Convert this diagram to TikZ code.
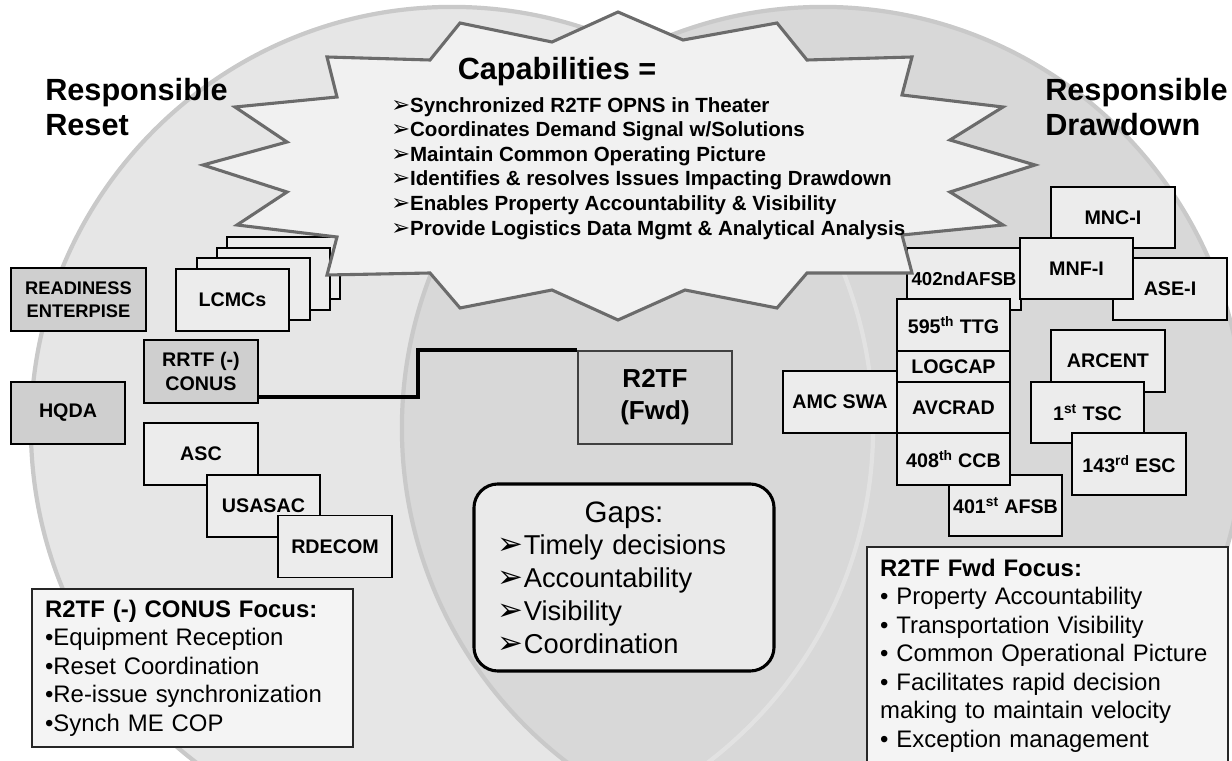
\documentclass[tikz,border=0pt]{standalone}
\usepackage{fontspec}
\setmainfont{Liberation Sans}
\newfontfamily\dejavu{DejaVu Sans}
\usetikzlibrary{positioning,calc}
\definecolor{leftfill}{HTML}{E6E6E6}
\definecolor{rightfill}{HTML}{D8D8D8}
\definecolor{ringgray}{HTML}{C9C9C9}
\definecolor{ringlight}{HTML}{E2E2E2}
\definecolor{boxfill}{HTML}{ECECEC}
\definecolor{hqfill}{HTML}{CFCFCF}
\definecolor{fwdfill}{HTML}{D3D3D3}
\definecolor{burstfill}{HTML}{F1F1F1}
\definecolor{burstline}{HTML}{6B6B6B}
\definecolor{gapfill}{HTML}{EAEAEA}
\definecolor{notefill}{HTML}{F4F4F4}
\newcommand{\capmark}{{\dejavu\fontsize{16}{16}\selectfont ➢}}
\newcommand{\gapmark}{{\dejavu\fontsize{22}{22}\selectfont ➢}}

\begin{document}
\begin{tikzpicture}[x=0.025cm,y=-0.025cm,
  unitbox/.style={draw=black,line width=1.3pt,fill=boxfill,minimum width=2.83cm,minimum height=1.55cm,inner sep=1pt,font=\fontsize{14}{17}\selectfont\bfseries,align=center},
  hqbox/.style={unitbox,fill=hqfill},
  ring/.style={draw=ringgray,line width=3pt},
  burst/.style={draw=burstline,fill=burstfill,line width=2.2pt,line join=miter},
  bigtitle/.style={inner sep=0,align=left,font=\fontsize{21.8}{24.9}\selectfont\bfseries},
  notebox/.style={draw=black!85,line width=1.3pt,fill=notefill,anchor=north west,align=left,inner xsep=0.33cm,font=\fontsize{17}{20.3}\selectfont},
  link/.style={line width=2.8pt}]
\useasboundingbox (0,0) rectangle (1232,761);
\clip (0,0) rectangle (1232,761);

\fill[leftfill] (452,428) circle [radius=10.525cm];
\draw[ring] (452,428) circle [radius=10.525cm];
\fill[rightfill] (823,428) circle [radius=10.525cm];
\draw[ring] (823,428) circle [radius=10.525cm];
\begin{scope}
\clip (823,428) circle [radius=10.45cm];
\draw[ring,draw=ringlight] (452,428) circle [radius=10.525cm];
\end{scope}

\node[hqbox,minimum width=3.375cm,minimum height=1.575cm,font=\fontsize{13}{16.4}\selectfont\bfseries] (ready) at (78.5,299.5) {READINESS\\ENTERPISE};
\node[unitbox] (lcmc4) at (283.5,268) {};
\node[unitbox] (lcmc3) at (273.5,279) {};
\node[unitbox] (lcmc2) at (253.5,289) {};
\node[unitbox] (lcmc) at (232.5,300) {LCMCs};
\node[hqbox,minimum height=1.575cm] (rrtf) at (201,371.5) {RRTF (-)\\CONUS};
\node[hqbox] (hqda) at (68,413) {HQDA};
\node[unitbox] (asc) at (201,454) {ASC};
\node[unitbox] (usasac) at (263.5,506) {USASAC};
\node[unitbox] (rdecom) at (335,546.5) {RDECOM};

\node[unitbox,minimum width=3.1cm,minimum height=1.525cm] (mnci) at (1113,217.5) {MNC-I};
\node[unitbox,minimum width=2.85cm] (asei) at (1170,289) {ASE-I};
\node[unitbox,minimum width=2.85cm,font=\fontsize{13.3}{16}\selectfont\bfseries] (afsb402) at (964,279) {402ndAFSB};
\node[unitbox,minimum height=1.525cm] (mnfi) at (1076.5,268.5) {MNF-I};
\node[unitbox,minimum width=2.85cm] (amcswa) at (840,402) {AMC SWA};
\node[unitbox,minimum height=1.525cm] (afsb401) at (1005.5,505.5) {401\textsuperscript{st} AFSB};
\node[unitbox,minimum height=1.3cm] (ttg) at (953.5,325) {595\textsuperscript{th} TTG};
\node[unitbox,minimum height=0.775cm] (logcap) at (953.5,366.5) {LOGCAP};
\node[unitbox,minimum height=1.275cm] (avcrad) at (953.5,407.5) {AVCRAD};
\node[unitbox,minimum height=1.3cm] (ccb) at (953.5,459) {408\textsuperscript{th} CCB};
\node[unitbox,minimum width=2.85cm] (arcent) at (1108,361) {ARCENT};
\node[unitbox,minimum height=1.525cm] (tsc) at (1087.5,412.5) {1\textsuperscript{st} TSC};
\node[unitbox,minimum width=2.85cm] (esc) at (1129,464) {143\textsuperscript{rd} ESC};

\draw[burst] (327,57) -- (430,60) -- (460,23) -- (552,42) -- (618,12) -- (683,40) -- (777,23) -- (807,60)
  -- (912,57) -- (902,95) -- (1003,107) -- (950,140) -- (1035,165) -- (950,192) -- (1003,225) -- (902,235)
  -- (912,273) -- (807,273) -- (777,308) -- (685,290) -- (618,320) -- (552,290) -- (460,308) -- (430,273)
  -- (327,275) -- (337,237) -- (237,225) -- (287,192) -- (203,165) -- (287,142) -- (235,107) -- (337,97) -- cycle;

\node[bigtitle,anchor=base] (caphead) at (557,80) {Capabilities =};
\node[anchor=north west,align=left,inner sep=0,font=\fontsize{14.6}{17.5}\selectfont\bfseries] (caplist) at (391,97)
  {\capmark Synchronized R2TF OPNS in Theater\\
   \capmark Coordinates Demand Signal w/Solutions\\
   \capmark Maintain Common Operating Picture\\
   \capmark Identifies \& resolves Issues Impacting Drawdown\\
   \capmark Enables Property Accountability \& Visibility\\
   \capmark Provide Logistics Data Mgmt \& Analytical Analysis};

\node[bigtitle,anchor=north west] (reset) at (45,78) {Responsible\\Reset};
\node[bigtitle,anchor=north west] (drawdown) at (1045,78) {Responsible\\Drawdown};

\node[draw=black!75,line width=1pt,fill=fwdfill,minimum width=3.85cm,minimum height=2.325cm,align=center,font=\fontsize{18.5}{22.8}\selectfont\bfseries] (r2tf) at (655,397.5) {R2TF\\(Fwd)};
\coordinate (bend) at (418,397);
\draw[link] (bend -| rrtf.east) -- (bend) |- (r2tf.north west);

\node[draw=black,line width=2.2pt,fill=gapfill,rounded corners=0.6cm,minimum width=7.5cm,minimum height=4.675cm,text width=6.3cm,inner xsep=0.6cm,align=left,font=\fontsize{19.4}{23.3}\selectfont] (gaps) at (624,577.5)
  {\makebox[6.3cm]{\fontsize{21}{23.3}\selectfont Gaps:}\\
   \gapmark Timely decisions\\
   \gapmark Accountability\\
   \gapmark Visibility\\
   \gapmark Coordination};

\node[notebox,text width=7.36cm,minimum height=3.95cm] (conusfocus) at (31,588)
  {\textbf{R2TF (-) CONUS Focus:}\\
   •Equipment Reception\\
   •Reset Coordination\\
   •Re-issue synchronization\\
   •Synch ME COP};
\node[notebox,text width=8.36cm,inner ysep=0.3cm] (fwdfocus) at (866,546)
  {\textbf{R2TF Fwd Focus:}\\
   • Property Accountability\\
   • Transportation Visibility\\
   • Common Operational Picture\\
   • Facilitates rapid decision\\
   making to maintain velocity\\
   • Exception management};
\end{tikzpicture}
\end{document}
